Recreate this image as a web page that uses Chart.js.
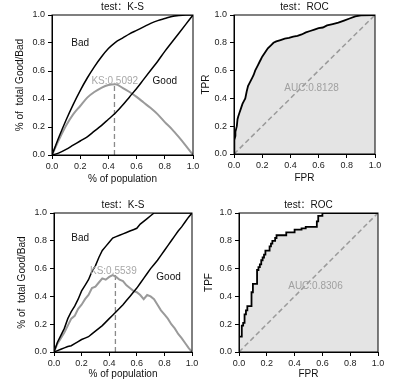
<!DOCTYPE html>
<html><head><meta charset="utf-8">
<script src="https://cdn.jsdelivr.net/npm/chart.js@4"></script>
<style>
html,body{margin:0;padding:0;background:#fff;}
#wrap{position:relative;width:397px;height:381px;overflow:hidden;}
canvas{position:absolute;left:0;top:0;}
</style></head><body>
<div id="wrap">
<canvas id="c1" width="397" height="381"></canvas>
<canvas id="c2" width="397" height="381"></canvas>
<canvas id="c3" width="397" height="381"></canvas>
<canvas id="c4" width="397" height="381"></canvas>
</div>
<script>
// ---------- data ----------
const tickValues = [0, 0.2, 0.4, 0.6, 0.8, 1.0];

// top K-S
const popTop  = [0,0.05,0.1,0.15,0.2,0.25,0.3,0.35,0.4,0.45,0.5,0.55,0.6,0.65,0.7,0.75,0.8,0.85,0.9,0.95,1.0];
const badTop  = [0,0.13,0.25,0.36,0.46,0.55,0.63,0.70,0.76,0.805,0.835,0.865,0.89,0.915,0.94,0.96,0.975,0.99,0.997,1,1];
const goodTop = [0,0.015,0.04,0.07,0.10,0.13,0.17,0.21,0.255,0.30,0.355,0.415,0.475,0.54,0.605,0.67,0.74,0.805,0.87,0.935,1];
const ksTop   = [0,0.11,0.21,0.29,0.35,0.41,0.45,0.48,0.50,0.505,0.48,0.45,0.415,0.375,0.335,0.29,0.235,0.185,0.127,0.065,0];
const ksTopValue = 0.5092, ksTopAt = 0.443;

// top ROC
const fprTop = [0,0,0.005,0.01,0.01,0.02,0.025,0.03,0.04,0.05,0.06,0.07,0.08,0.09,0.1,0.11,0.12,0.13,0.14,0.15,0.16,0.17,0.18,0.19,0.2,0.22,0.24,0.26,0.28,0.3,0.33,0.36,0.39,0.42,0.45,0.48,0.51,0.54,0.57,0.6,0.63,0.66,0.7,0.74,0.78,0.82,0.86,0.9,1.0];
const tprTop = [0,0.06,0.1,0.13,0.16,0.2,0.25,0.27,0.3,0.33,0.36,0.38,0.4,0.45,0.49,0.51,0.53,0.55,0.57,0.6,0.62,0.64,0.66,0.68,0.7,0.73,0.76,0.78,0.8,0.81,0.82,0.83,0.835,0.845,0.85,0.86,0.875,0.885,0.895,0.905,0.91,0.925,0.935,0.945,0.96,0.975,0.99,0.998,1.0];
const aucTop = 0.8128;

// bottom K-S
const popBottom  = [0,0.025,0.05,0.075,0.1,0.125,0.15,0.175,0.2,0.225,0.25,0.275,0.3,0.325,0.35,0.375,0.4,0.425,0.45,0.475,0.5,0.525,0.55,0.575,0.6,0.625,0.65,0.675,0.7,0.725,0.75,0.775,0.8,0.825,0.85,0.875,0.9,0.925,0.95,0.975,1.0];
const badBottom  = [0,0.07,0.12,0.17,0.24,0.29,0.33,0.38,0.44,0.48,0.52,0.58,0.62,0.68,0.73,0.76,0.79,0.82,0.83,0.84,0.85,0.86,0.87,0.88,0.89,0.92,0.94,0.96,0.98,1.0,1,1,1,1,1,1,1,1,1,1,1];
const goodBottom = [0,0.01,0.02,0.03,0.04,0.045,0.06,0.075,0.09,0.10,0.11,0.13,0.15,0.17,0.19,0.215,0.24,0.265,0.29,0.315,0.34,0.37,0.40,0.43,0.46,0.495,0.53,0.565,0.60,0.63,0.66,0.695,0.73,0.765,0.80,0.835,0.87,0.90,0.935,0.97,1.0];
const ksBottom   = [0,0.06,0.10,0.14,0.19,0.24,0.26,0.31,0.34,0.38,0.41,0.46,0.47,0.50,0.53,0.52,0.54,0.553,0.54,0.52,0.51,0.48,0.46,0.44,0.43,0.41,0.38,0.41,0.40,0.38,0.34,0.30,0.27,0.24,0.20,0.17,0.13,0.10,0.065,0.03,0];
const ksBottomValue = 0.5539, ksBottomAt = 0.445;

// bottom ROC
const fprBottom = [0,0,0.02,0.02,0.03,0.03,0.04,0.04,0.05,0.05,0.06,0.06,0.09,0.09,0.1,0.1,0.13,0.13,0.14,0.14,0.15,0.15,0.16,0.16,0.17,0.17,0.18,0.18,0.19,0.19,0.22,0.22,0.23,0.23,0.24,0.24,0.26,0.26,0.27,0.27,0.34,0.34,0.4,0.4,0.45,0.45,0.48,0.48,0.56,0.56,0.57,0.57,0.6,0.6,1.0];
const tprBottom = [0,0.11,0.11,0.19,0.19,0.21,0.21,0.27,0.27,0.30,0.30,0.33,0.33,0.43,0.43,0.49,0.49,0.59,0.59,0.61,0.61,0.63,0.63,0.66,0.66,0.68,0.68,0.70,0.70,0.73,0.73,0.76,0.76,0.78,0.78,0.80,0.80,0.82,0.82,0.84,0.84,0.86,0.86,0.88,0.88,0.89,0.89,0.90,0.90,0.94,0.94,0.98,0.98,1.0,1.0];
const aucBottom = 0.8306;

// ---------- helpers ----------
const W = 397, H = 381, YW = 40, XH = 30;
const FONT = "'Liberation Sans', Arial, 'Noto Sans CJK SC', sans-serif";
Chart.defaults.font.family = FONT;
const pts = (xs, ys) => xs.map((x, i) => ({x: x, y: ys[i]}));

function axis(isX, title, titlePad) {
  return {
    type: 'linear', min: 0, max: 1,
    afterFit: s => { if (isX) s.height = XH; else s.width = YW; },
    afterBuildTicks: s => { s.ticks = tickValues.map(v => ({value: v})); },
    ticks: { callback: v => Number(v).toFixed(1), font: {size: 9}, color: '#222', padding: isX ? 2 : 3, maxRotation: 0, autoSkip: false },
    grid: { display: true, drawOnChartArea: false, drawTicks: true, tickLength: 4, color: '#000', tickColor: '#000' },
    border: { display: true, color: '#000', width: 1 },
    title: { display: true, text: title, font: {size: 10}, color: '#111',
             padding: isX ? {top: 0, bottom: titlePad} : {top: titlePad, bottom: 0} }
  };
}

const decor = {
  id: 'decor',
  afterDatasetsDraw(chart, args, o) {
    const {ctx, chartArea: a, scales} = chart;
    ctx.save();
    ctx.strokeStyle = '#000'; ctx.lineWidth = 1;
    ctx.strokeRect(a.left, a.top, a.right - a.left, a.bottom - a.top);
    ctx.textAlign = 'center'; ctx.textBaseline = 'middle';
    ctx.fillStyle = '#111';
    ctx.font = '10px ' + FONT;
    ctx.fillText(o.title, (a.left + a.right) / 2, a.top - 8);
    (o.labels || []).forEach(l => {
      ctx.fillStyle = l.color;
      ctx.font = (l.size || 10) + 'px ' + FONT;
      ctx.fillText(l.text, scales.x.getPixelForValue(l.x), scales.y.getPixelForValue(l.y));
    });
    ctx.restore();
  }
};

function make(id, box, datasets, xTitle, xPad, yTitle, yPad, decorOpts) {
  return new Chart(document.getElementById(id), {
    type: 'line',
    data: { datasets: datasets },
    options: {
      responsive: false, animation: false, events: [],
      layout: { padding: { left: box.L - YW, top: box.T, right: W - box.R, bottom: H - box.B - XH } },
      elements: { point: { radius: 0 } },
      scales: { x: axis(true, xTitle, xPad), y: axis(false, yTitle, yPad) },
      plugins: { legend: {display: false}, tooltip: {enabled: false}, title: {display: false},
                 filler: { drawTime: 'beforeDatasetsDraw' }, decor: decorOpts }
    },
    plugins: [decor]
  });
}

function ksDatasets(pop, bad, good, ks, ksAt, ksVal, smooth) {
  const common = smooth ? {cubicInterpolationMode: 'monotone'} : {tension: 0};
  return [
    Object.assign({data: pts(pop, bad), borderColor: '#000', borderWidth: 1.5, fill: false}, common),
    Object.assign({data: pts(pop, good), borderColor: '#000', borderWidth: 1.5, fill: false}, common),
    Object.assign({data: pts(pop, ks), borderColor: '#9a9a9a', borderWidth: 2, fill: false}, common),
    {data: pts([ksAt, ksAt], [0, ksVal]), borderColor: '#8a8a8a', borderWidth: 1.3, borderDash: [5, 3], fill: false}
  ];
}
function rocDatasets(fpr, tpr) {
  return [
    {data: pts(fpr, tpr), borderColor: '#000', borderWidth: 1.8, fill: 'origin', backgroundColor: '#e4e4e4', tension: 0, order: 0},
    {data: pts([0, 1], [0, 1]), borderColor: '#9a9a9a', borderWidth: 1.5, borderDash: [5, 3], fill: false, order: 1}
  ];
}

// ---------- charts ----------
make('c1', {L: 52, R: 193, T: 15, B: 155},
  ksDatasets(popTop, badTop, goodTop, ksTop, ksTopAt, ksTopValue, true),
  '% of population', 0, '% of  total Good/Bad', 2,
  { title: 'test：K-S', labels: [
    {text: 'Bad', x: 0.2, y: 0.8, color: '#111'},
    {text: 'Good', x: 0.8, y: 0.53, color: '#111'},
    {text: 'KS:' + ksTopValue.toFixed(4), x: 0.445, y: 0.53, color: '#a8a8a8'} ] });

make('c2', {L: 234, R: 375, T: 15, B: 154},
  rocDatasets(fprTop, tprTop),
  'FPR', 0, 'TPR', 6,
  { title: 'test：ROC', labels: [
    {text: 'AUC:' + aucTop.toFixed(4), x: 0.55, y: 0.47, color: '#a0a0a0'} ] });

make('c3', {L: 54, R: 192, T: 213, B: 352},
  ksDatasets(popBottom, badBottom, goodBottom, ksBottom, ksBottomAt, ksBottomValue, false),
  '% of population', 2, '% of  total Good/Bad', 2,
  { title: 'test：K-S', labels: [
    {text: 'Bad', x: 0.19, y: 0.815, color: '#111'},
    {text: 'Good', x: 0.83, y: 0.54, color: '#111'},
    {text: 'KS:' + ksBottomValue.toFixed(4), x: 0.43, y: 0.578, color: '#a8a8a8'} ] });

make('c4', {L: 239, R: 378, T: 213, B: 352},
  rocDatasets(fprBottom, tprBottom),
  'FPR', 2, 'TPF', 4,
  { title: 'test：ROC', labels: [
    {text: 'AUC:' + aucBottom.toFixed(4), x: 0.55, y: 0.47, color: '#a0a0a0'} ] });
</script>
</body></html>
